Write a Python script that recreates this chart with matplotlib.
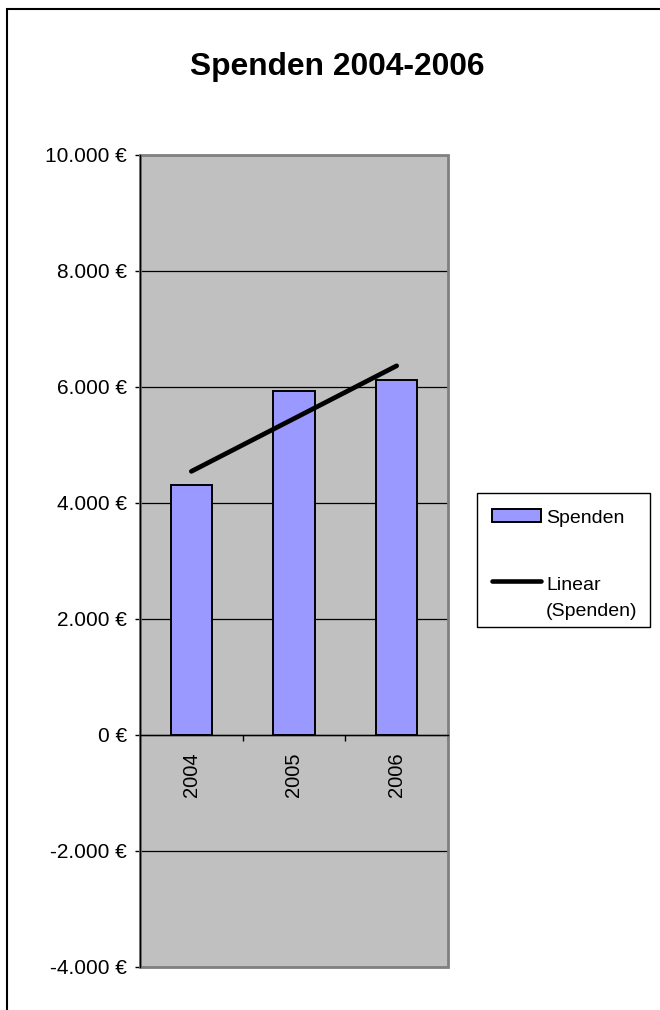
import numpy as np
from matplotlib import pyplot as plt
from matplotlib.lines import Line2D
from matplotlib.patches import Rectangle
from matplotlib.ticker import FuncFormatter, MultipleLocator, FixedLocator

plt.rcParams['font.family'] = ['Liberation Sans', 'DejaVu Sans']

years = ['2004', '2005', '2006']
spenden = [4300, 5930, 6120]
y_min, y_max, y_step = -4000, 10000, 2000

title = 'Spenden 2004-2006'
bar_label = 'Spenden'
trend_label = 'Linear\n(Spenden)'

W, H = 660, 1010
BAR_COLOR = '#9999ff'


def euro(v, pos):
    return f'{v:,.0f}'.replace(',', '.') + ' €'


def fx(px):
    return px / W


def fy(py):
    return 1 - py / H


def draw_legend(fig):
    # Excel style legend box: handle aligned with first line of its label
    tf = fig.transFigure
    fig.add_artist(Rectangle((fx(476.7), fy(626.7)), fx(650) - fx(476.7),
                             fy(493.3) - fy(626.7), transform=tf,
                             facecolor='white', edgecolor='black', linewidth=1))
    fig.add_artist(Rectangle((fx(491.7), fy(522)), fx(540.7) - fx(491.7),
                             fy(509) - fy(522), transform=tf,
                             facecolor=BAR_COLOR, edgecolor='black', linewidth=1.4))
    fig.text(fx(546), fy(523), bar_label, fontsize=14, va='baseline')
    fig.add_artist(Line2D([fx(491.7), fx(540.7)], [fy(580.7), fy(580.7)],
                          transform=tf, color='black', linewidth=3.3,
                          solid_capstyle='round'))
    for i, line in enumerate(trend_label.split('\n')):
        fig.text(fx(546), fy(590 + 26 * i), line, fontsize=14, va='baseline')


def main():
    fig = plt.figure(figsize=(W / 100, H / 100), dpi=100)
    ax = fig.add_axes([fx(140), fy(966.7), 308 / W, 812 / H])
    ax.set_facecolor('#c0c0c0')

    x = np.arange(len(years))
    ax.bar(x, spenden, width=0.4, color=BAR_COLOR, edgecolor='black',
           linewidth=1.4, zorder=3)

    # linear trend of the bar values
    k, d = np.polyfit(x, spenden, 1)
    ax.plot(x, k * x + d, color='black', linewidth=3.4,
            solid_capstyle='round', zorder=4)

    ax.set_xlim(-0.5, len(years) - 0.5)
    ax.set_ylim(y_min, y_max)
    ax.yaxis.set_major_locator(MultipleLocator(y_step))
    ax.yaxis.set_major_formatter(FuncFormatter(euro))
    ax.grid(axis='y', color='black', linewidth=0.9, zorder=1)

    # plot area frame
    ax.add_patch(Rectangle((0, 0), 1, 1, transform=ax.transAxes, fill=False,
                           edgecolor='#808080', linewidth=2, zorder=2,
                           clip_on=False))
    for s in ['top', 'right']:
        ax.spines[s].set_visible(False)
    ax.spines['left'].set_color('black')
    ax.spines['left'].set_linewidth(1)
    ax.spines['left'].set_zorder(5)
    ax.spines['bottom'].set_position(('data', 0))
    ax.spines['bottom'].set_color('black')
    ax.spines['bottom'].set_linewidth(1)
    ax.spines['bottom'].set_zorder(5)

    ax.tick_params(axis='y', direction='out', length=3.6, width=1,
                   pad=6, labelsize=15)
    ax.set_xticks(x)
    ax.set_xticklabels(years, rotation=90)
    ax.xaxis.set_minor_locator(FixedLocator(np.arange(-0.5, len(years), 1)))
    ax.tick_params(axis='x', which='major', length=0, pad=12.7, labelsize=14.5)
    ax.tick_params(axis='x', which='minor', direction='out', length=4.3, width=1)

    fig.text(fx(337.5), fy(75), title, ha='center', va='baseline',
             fontsize=22.9, fontweight='bold')

    draw_legend(fig)

    # outer chart border (cut off at right and bottom)
    fig.add_artist(Rectangle((fx(7), -0.1), 1, 1.1 - 8.5 / H,
                             transform=fig.transFigure, fill=False,
                             edgecolor='black', linewidth=1.5))

    fig.savefig('out.png', dpi=100)
    plt.close(fig)


if __name__ == '__main__':
    main()
